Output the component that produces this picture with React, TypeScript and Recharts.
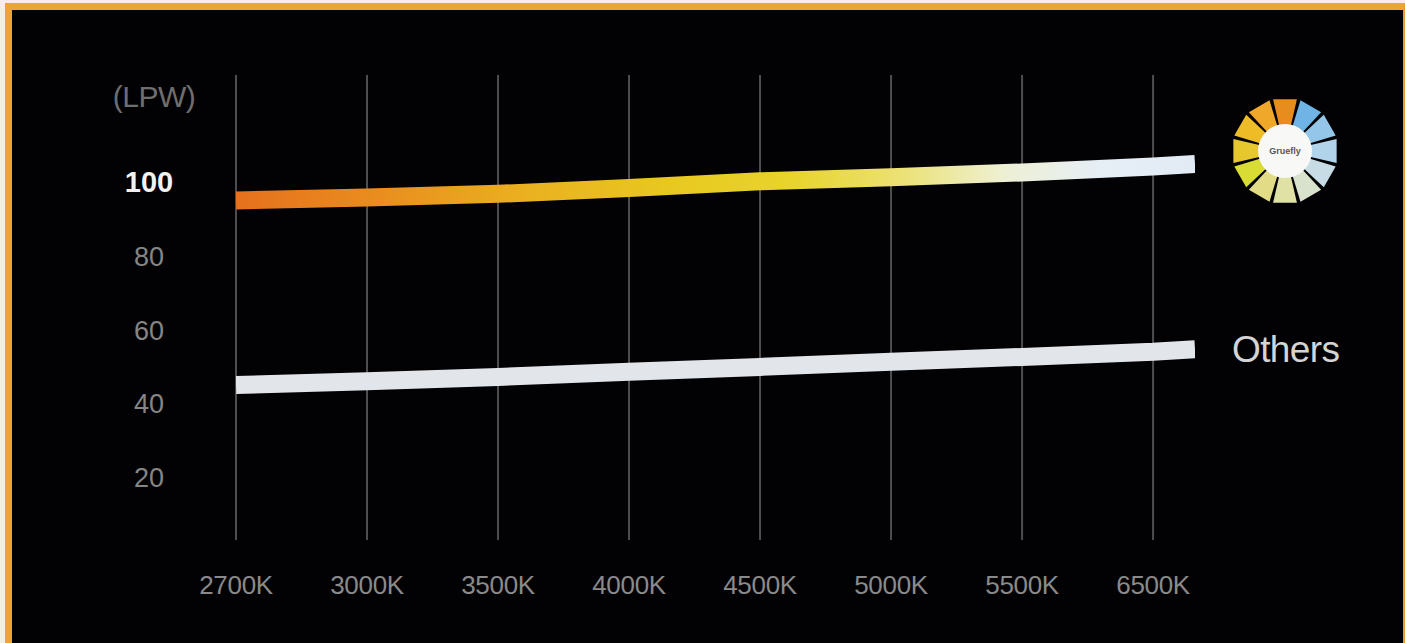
import React from "react";
import { LineChart, Line, XAxis, YAxis, ReferenceLine } from "recharts";

// colour temperature categories, evenly spaced on the axis
const categories = ["2700K", "3000K", "3500K", "4000K", "4500K", "5000K", "5500K", "6500K"];
const yTicks = [20, 40, 60, 80, 100];
// positions along the category axis (last one: the lines run a bit past 6500K)
const xPositions = [0, 1, 2, 3, 4, 5, 6, 7, 7.32];
const ourValues = [95.0, 95.8, 96.8, 98.4, 100.2, 101.3, 102.6, 104.2, 104.9];
const othersValues = [45.0, 46.0, 47.2, 48.6, 49.9, 51.3, 52.6, 54.0, 54.7];

const data = xPositions.map((x, i) => ({ x, ours: ourValues[i], others: othersValues[i] }));

const logoColors = [
  "#e88c1e", "#6fb4e4", "#94c6ea", "#b2d4ea", "#c8dce6", "#d8e2cc",
  "#dfe2a4", "#e2dc86", "#d8dc34", "#e6c82e", "#eebc26", "#f0a82a",
];

const font = "'Liberation Sans', Arial, sans-serif";

const XTick = (props: any) => {
  const { x, y, payload } = props;
  return (
    <text x={x} y={y + 54} textAnchor="middle" fill="#8a8a8a" fontSize={26} letterSpacing={-0.3} fontFamily={font}>
      {categories[payload.value]}
    </text>
  );
};

const YTick = (props: any) => {
  const { x, y, payload } = props;
  const main = payload.value === 100;
  return (
    <text
      x={x - 87}
      y={y + 10}
      textAnchor="middle"
      fill={main ? "#f2f2f2" : "#858585"}
      fontWeight={main ? 700 : 400}
      fontSize={main ? 29 : 27}
      fontFamily={font}
    >
      {payload.value}
    </text>
  );
};

const OthersLabel = (props: any) => {
  const { x, y, index } = props;
  if (index !== data.length - 1) return null;
  return (
    <text x={x + 37} y={y + 13} fill="#d4d4d4" fontSize={37} letterSpacing={-0.6} fontFamily={font}>
      Others
    </text>
  );
};

const Logo = () => {
  const cx = 1285;
  const cy = 151;
  const wedges = logoColors.map((c, i) => {
    const a0 = ((i * 30 - 90 - 13) * Math.PI) / 180;
    const a1 = ((i * 30 - 90 + 13) * Math.PI) / 180;
    const r0 = 22;
    const r1 = 53;
    const pts = [
      [cx + r0 * Math.cos(a0), cy + r0 * Math.sin(a0)],
      [cx + r1 * Math.cos(a0), cy + r1 * Math.sin(a0)],
      [cx + r1 * Math.cos(a1), cy + r1 * Math.sin(a1)],
      [cx + r0 * Math.cos(a1), cy + r0 * Math.sin(a1)],
    ]
      .map((p) => p.join(","))
      .join(" ");
    return <polygon key={i} points={pts} fill={c} />;
  });
  return (
    <g>
      {wedges}
      <circle cx={cx} cy={cy} r={27} fill="#f8f8f6" />
      <text x={cx} y={cy + 3} textAnchor="middle" fontSize={9} fontWeight={700} fill="#555" fontFamily={font}>
        Gruefly
      </text>
    </g>
  );
};

export default function App() {
  return (
    <div style={{ position: "fixed", left: 0, top: 0, width: 1405, height: 643, background: "#f8ece4", overflow: "hidden" }}>
      <div
        style={{
          position: "absolute",
          left: 5,
          top: 3,
          width: 1400,
          height: 645,
          boxSizing: "border-box",
          borderTop: "7px solid #f0a232",
          borderLeft: "7px solid #f0a232",
          borderRight: "2px solid #e89a30",
          background: "#020204",
        }}
      />
      <div style={{ position: "absolute", left: 0, top: 0 }}>
        <LineChart width={1405} height={643} data={data} margin={{ top: 75, right: 210, bottom: 0, left: 0 }}>
          <defs>
            <linearGradient id="oursGrad" x1="0" y1="0" x2="1" y2="0">
              <stop offset="0%" stopColor="#e6701e" />
              <stop offset="15%" stopColor="#e98e1e" />
              <stop offset="30%" stopColor="#eab020" />
              <stop offset="45%" stopColor="#e8c820" />
              <stop offset="58%" stopColor="#e8d42c" />
              <stop offset="70%" stopColor="#ece27a" />
              <stop offset="80%" stopColor="#eef0d4" />
              <stop offset="90%" stopColor="#e6eef6" />
              <stop offset="100%" stopColor="#e2eaf4" />
            </linearGradient>
          </defs>
          <XAxis
            dataKey="x"
            type="number"
            domain={[0, 7.32]}
            ticks={[0, 1, 2, 3, 4, 5, 6, 7]}
            allowDataOverflow
            axisLine={false}
            tickLine={false}
            tickSize={0}
            tickMargin={0}
            height={103}
            tick={<XTick />}
            interval={0}
          />
          <YAxis
            type="number"
            domain={[3, 129]}
            ticks={yTicks}
            allowDataOverflow
            axisLine={false}
            tickLine={false}
            tickSize={0}
            tickMargin={0}
            width={236}
            tick={<YTick />}
            interval={0}
          />
          {categories.map((c, i) => (
            <ReferenceLine key={c} x={i} stroke="#4e4e4e" strokeWidth={2} />
          ))}
          <Line
            dataKey="others"
            type="linear"
            stroke="#e2e5ea"
            strokeWidth={18}
            dot={false}
            activeDot={false}
            isAnimationActive={false}
            label={<OthersLabel />}
          />
          <Line
            dataKey="ours"
            type="linear"
            stroke="url(#oursGrad)"
            strokeWidth={18}
            dot={false}
            activeDot={false}
            isAnimationActive={false}
          />
        </LineChart>
      </div>
      <svg style={{ position: "absolute", left: 0, top: 0 }} width={1405} height={643}>
        <text x={154} y={107} textAnchor="middle" fill="#6e6e6e" fontSize={30} letterSpacing={-0.5} fontFamily={font}>
          (LPW)
        </text>
        <Logo />
      </svg>
    </div>
  );
}
